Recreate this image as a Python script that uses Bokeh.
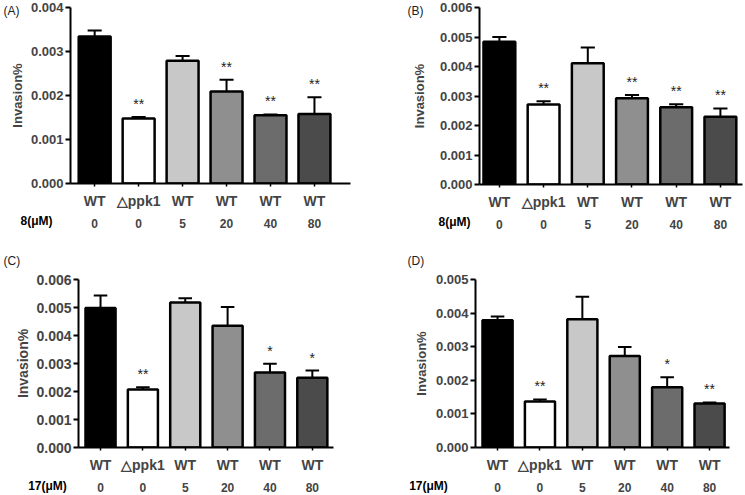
from bokeh.plotting import figure
from bokeh.models import Range1d, LinearAxis, FixedTicker, NumeralTickFormatter, ColumnDataSource, GridBox
from bokeh.layouts import column, row
from bokeh.embed import file_html
from bokeh.resources import INLINE
from bokeh.core.properties import value

# ---------------- data ----------------
strains = ["WT", "\u25b3ppk1", "WT", "WT", "WT", "WT"]
conc = ["0", "0", "5", "20", "40", "80"]
bar_colors = ["#000000", "#ffffff", "#c8c8c8", "#8f8f8f", "#6c6c6c", "#4b4b4b"]

A_mean = [0.00334, 0.00148, 0.00279, 0.00209, 0.00155, 0.00158]
A_err = [0.00014, 0.00003, 0.00011, 0.00027, 0.00002, 0.00038]
A_sig = ["", "**", "", "**", "**", "**"]

B_mean = [0.00484, 0.00271, 0.00411, 0.00292, 0.00262, 0.00230]
B_err = [0.00016, 0.00011, 0.00053, 0.00011, 0.00010, 0.00028]
B_sig = ["", "**", "", "**", "**", "**"]

C_mean = [0.00498, 0.00207, 0.00518, 0.00435, 0.00268, 0.00249]
C_err = [0.00045, 0.00008, 0.00015, 0.00067, 0.00031, 0.00026]
C_sig = ["", "**", "", "", "*", "*"]

D_mean = [0.00379, 0.00137, 0.00382, 0.00272, 0.00179, 0.00131]
D_err = [0.00011, 0.00006, 0.00067, 0.00027, 0.00030, 0.00003]
D_sig = ["", "**", "", "", "*", "**"]

panel_tags = ["(A)", "(B)", "(C)", "(D)"]
conc_titles = ["8(\u03bcM)", "8(\u03bcM)", "17(\u03bcM)", "17(\u03bcM)"]

FONT = "Liberation Sans"
W, H = 745, 494


def no_align(p):
    try:
        p.frame_align = False
    except Exception:
        pass


def panel(means, errs, sigs, ymax, width, height,
          bl, bt, bb, br, xr, bar_w, ylab_standoff, tick_fs):
    idx = list(range(len(means)))
    p = figure(width=width, height=height, x_range=Range1d(*xr), y_range=Range1d(0, ymax),
               output_backend="svg", toolbar_location=None, x_axis_location=None,
               min_border_left=bl, min_border_top=bt, min_border_bottom=bb, min_border_right=br)
    no_align(p)
    p.outline_line_color = None
    p.grid.visible = False

    tops = [m + e for m, e in zip(means, errs)]
    src = ColumnDataSource(dict(x=idx, m=means, t=tops, c=bar_colors, s=sigs,
                                xl=[i - 0.16 for i in idx], xr=[i + 0.16 for i in idx]))
    p.segment(x0="x", y0="m", x1="x", y1="t", source=src, line_color="black", line_width=2)
    p.segment(x0="xl", y0="t", x1="xr", y1="t", source=src, line_color="black", line_width=2)
    p.vbar(x="x", top="m", bottom=0, width=bar_w, fill_color="c", line_color="black",
           line_width=2.5, source=src)
    p.text(x="x", y="t", text="s", source=src, text_align="center", text_baseline="bottom",
           y_offset=-5, text_font=value(FONT), text_font_size="14px", text_color="#222222")

    ya = p.yaxis[0]
    n = int(round(ymax / 0.001))
    ya.ticker = FixedTicker(ticks=[i * 0.001 for i in range(n + 1)])
    ya.formatter = NumeralTickFormatter(format="0.000")
    ya.axis_line_width = 2
    ya.major_tick_line_width = 2
    ya.major_tick_out = 5
    ya.major_tick_in = 0
    ya.minor_tick_line_color = None
    ya.major_label_standoff = 2
    ya.major_label_text_font = FONT
    ya.major_label_text_font_style = "bold"
    ya.major_label_text_font_size = tick_fs
    ya.axis_label = "Invasion%"
    ya.axis_label_text_font = FONT
    ya.axis_label_text_font_style = "bold"
    ya.axis_label_text_font_size = tick_fs
    ya.axis_label_standoff = ylab_standoff

    # strain row
    xa = LinearAxis(ticker=FixedTicker(ticks=idx),
                    major_label_overrides={i: s for i, s in zip(idx, strains)})
    xa.axis_line_width = 2
    xa.major_tick_line_width = 1.5
    xa.major_tick_out = 3
    xa.major_tick_in = 0
    xa.minor_tick_line_color = None
    xa.major_label_standoff = 6
    xa.major_label_text_font = FONT
    xa.major_label_text_font_style = "bold"
    xa.major_label_text_font_size = "14px"
    p.add_layout(xa, "below")

    # concentration row
    xb = LinearAxis(ticker=FixedTicker(ticks=idx),
                    major_label_overrides={i: s for i, s in zip(idx, conc)})
    xb.axis_line_color = None
    xb.major_tick_line_color = None
    xb.minor_tick_line_color = None
    xb.major_label_standoff = 1
    xb.major_label_text_font = FONT
    xb.major_label_text_font_style = "bold"
    xb.major_label_text_font_size = "12px"
    p.add_layout(xb, "below")
    return p


pA = panel(A_mean, A_err, A_sig, 0.004, 372, 245,
           70, 7, 62, 22, (-0.55, 5.82), 0.727, 3, "13px")
pB = panel(B_mean, B_err, B_sig, 0.006, 373, 245,
           107, 7, 61, 3, (-0.45, 5.50), 0.72, 10, "13px")
pC = panel(C_mean, C_err, C_sig, 0.006, 372, 249,
           78, 34, 44, 39, (-0.52, 5.50), 0.71, 2, "14px")
pD = panel(D_mean, D_err, D_sig, 0.005, 373, 249,
           103, 34, 44, 16, (-0.52, 5.47), 0.71, 4, "13px")

# transparent overlay (pixel coordinates of the page) for the panel tags and row titles,
# which sit outside the plotting frames
ov = figure(width=W, height=H, x_range=Range1d(0, W), y_range=Range1d(H, 0),
            output_backend="svg", toolbar_location=None,
            x_axis_location=None, y_axis_location=None,
            min_border_left=0, min_border_right=0, min_border_top=0, min_border_bottom=0)
no_align(ov)
ov.grid.visible = False
ov.outline_line_color = None
ov.background_fill_color = None
ov.border_fill_color = None
tag_src = ColumnDataSource(dict(x=[3, 407, 3, 407], y=[10, 10, 260, 260], t=panel_tags))
ov.text(x="x", y="y", text="t", source=tag_src, text_align="left", text_baseline="middle",
        text_font=value(FONT), text_font_size="12px", text_color="#222222")
ct_src = ColumnDataSource(dict(x=[36, 454, 47, 428], y=[220, 221, 485, 485], t=conc_titles))
ov.text(x="x", y="y", text="t", source=ct_src, text_align="center", text_baseline="middle",
        text_font=value(FONT), text_font_size="12px", text_font_style="bold")

panels = column(row(pA, pB), row(pC, pD))
layout = GridBox(children=[(panels, 0, 0), (ov, 0, 0)])
open("out.html", "w").write(file_html(layout, INLINE))
